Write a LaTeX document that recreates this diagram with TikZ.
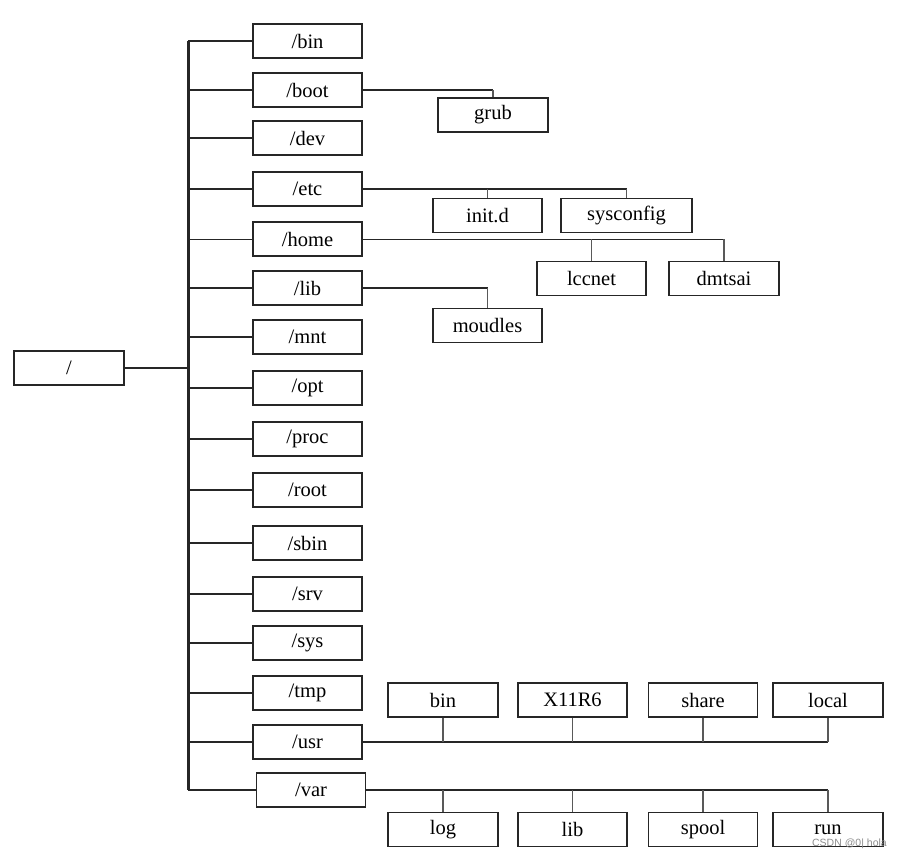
\documentclass[tikz,border=0pt]{standalone}
\usepackage{fontspec}
\setmainfont{Liberation Serif}
\setsansfont{Liberation Sans}
\usetikzlibrary{positioning}

\tikzset{
    dirbox/.style={draw=black!85, line width=1.8pt, minimum width=109pt, minimum height=34pt,
        inner sep=0pt, node font=\fontsize{20.5}{24}\selectfont},
    trunkline/.style={draw=black!85, line width=3pt},
    branchline/.style={draw=black!85, line width=1.8pt},
    thinline/.style={draw=black!85, line width=1pt},
    stubline/.style={draw=black!65, line width=1.7pt},
}

\begin{document}
\begin{tikzpicture}[x=1pt, y=-1pt]
    \useasboundingbox (0,0) rectangle (900,855);

    \node[dirbox, minimum width=110pt] (root) at (69,368) {/};
    \coordinate (trunk) at (188,368);

    \node[dirbox] (bin)  at (307.5,41)  {/bin};
    \node[dirbox] (boot) at (307.5,90)  {/boot};
    \node[dirbox] (dev)  at (307.5,138) {/dev};
    \node[dirbox] (etc)  at (307.5,189) {/etc};
    \node[dirbox] (home) at (307.5,239) {/home};
    \node[dirbox] (lib)  at (307.5,288) {/lib};
    \node[dirbox] (mnt)  at (307.5,337) {/mnt};
    \node[dirbox] (opt)  at (307.5,388) {/opt};
    \node[dirbox] (proc) at (307.5,439) {/proc};
    \node[dirbox] (rootdir) at (307.5,490) {/root};
    \node[dirbox] (sbin) at (307.5,543) {/sbin};
    \node[dirbox] (srv)  at (307.5,594) {/srv};
    \node[dirbox] (sys)  at (307.5,643) {/sys};
    \node[dirbox] (tmp)  at (307.5,693) {/tmp};
    \node[dirbox] (usr)  at (307.5,742) {/usr};
    \node[dirbox] (var)  at (311,790)   {/var};

    \node[dirbox, minimum width=110pt] (grub) at (493,115) {grub};
    \node[dirbox] (initd) at (487.5,215.5) {init.d};
    \node[dirbox, minimum width=131pt] (sysconfig) at (626.5,215.5) {sysconfig};
    \node[dirbox] (lccnet) at (591.5,278.5) {lccnet};
    \node[dirbox, minimum width=110pt] (dmtsai) at (724,278.5) {dmtsai};
    \node[dirbox] (moudles) at (487.5,325.5) {moudles};

    \node[dirbox, minimum width=110pt] (usrbin)   at (443,700)   {bin};
    \node[dirbox] (usrx)     at (572.5,700) {X11R6};
    \node[dirbox] (usrshare) at (703,700)   {share};
    \node[dirbox, minimum width=110pt] (usrlocal) at (828,700)   {local};

    \node[dirbox, minimum width=110pt] (varlog)   at (443,829.5)   {log};
    \node[dirbox] (varlib)   at (572.5,829.5) {lib};
    \node[dirbox] (varspool) at (703,829.5)   {spool};
    \node[dirbox, minimum width=110pt] (varrun)   at (828,829.5)   {run};

    % trunk
    \draw[branchline] (root.east) -- (trunk);
    \draw[trunkline] (bin.west -| trunk) -- (var.west -| trunk);
    \draw[branchline] (bin.west -| trunk) -- (bin.west);
    \draw[branchline] (boot.west -| trunk) -- (boot.west);
    \draw[branchline] (dev.west -| trunk) -- (dev.west);
    \draw[branchline] (etc.west -| trunk) -- (etc.west);
    \draw[thinline] (home.west -| trunk) -- (home.west);
    \draw[branchline] (lib.west -| trunk) -- (lib.west);
    \draw[branchline] (mnt.west -| trunk) -- (mnt.west);
    \draw[branchline] (opt.west -| trunk) -- (opt.west);
    \draw[branchline] (proc.west -| trunk) -- (proc.west);
    \draw[branchline] (rootdir.west -| trunk) -- (rootdir.west);
    \draw[branchline] (sbin.west -| trunk) -- (sbin.west);
    \draw[branchline] (srv.west -| trunk) -- (srv.west);
    \draw[branchline] (sys.west -| trunk) -- (sys.west);
    \draw[branchline] (tmp.west -| trunk) -- (tmp.west);
    \draw[branchline] (usr.west -| trunk) -- (usr.west);
    \draw[branchline] (var.west -| trunk) -- (var.west);

    % subdirectories
    \draw[branchline] (boot.east) -- (boot.east -| grub.north);
    \draw[stubline] (boot.east -| grub.north) -- (grub.north);

    \draw[branchline] (etc.east) -- (etc.east -| sysconfig.north);
    \draw[stubline] (etc.east -| initd.north) -- (initd.north);
    \draw[stubline] (etc.east -| sysconfig.north) -- (sysconfig.north);

    \draw[thinline] (home.east) -- (home.east -| dmtsai.north);
    \draw[stubline] (home.east -| lccnet.north) -- (lccnet.north);
    \draw[stubline] (home.east -| dmtsai.north) -- (dmtsai.north);

    \draw[branchline] (lib.east) -- (lib.east -| moudles.north);
    \draw[stubline] (lib.east -| moudles.north) -- (moudles.north);

    \draw[branchline] (usr.east) -- (usr.east -| usrlocal.south);
    \draw[stubline] (usr.east -| usrbin.south) -- (usrbin.south);
    \draw[stubline] (usr.east -| usrx.south) -- (usrx.south);
    \draw[stubline] (usr.east -| usrshare.south) -- (usrshare.south);
    \draw[stubline] (usr.east -| usrlocal.south) -- (usrlocal.south);

    \draw[branchline] (var.east) -- (var.east -| varrun.north);
    \draw[stubline] (var.east -| varlog.north) -- (varlog.north);
    \draw[stubline] (var.east -| varlib.north) -- (varlib.north);
    \draw[stubline] (var.east -| varspool.north) -- (varspool.north);
    \draw[stubline] (var.east -| varrun.north) -- (varrun.north);

    \node[text=black!45, inner sep=0pt, anchor=east, node font=\sffamily\fontsize{10.5}{12}\selectfont] (mark) at (887,844) {CSDN @0| hola};
\end{tikzpicture}
\end{document}
